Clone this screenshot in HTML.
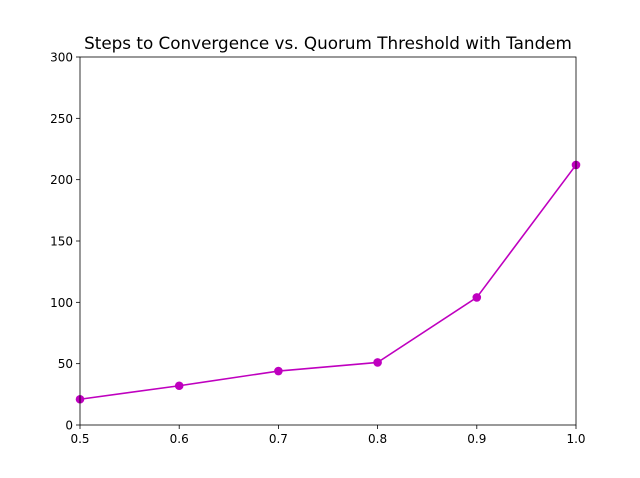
<!DOCTYPE html>
<html><head><meta charset="utf-8"><style>
body{margin:0;background:#fff;}
svg{display:block;font-family:"DejaVu Sans","Liberation Sans",sans-serif;}
</style></head><body>
<svg id="chart" width="640" height="478">
<rect width="640" height="478" fill="#fff"/>
<text x="328" y="49" text-anchor="middle" font-size="16.8">Steps to Convergence vs. Quorum Threshold with Tandem</text>
<g id="axes"></g>
</svg>
<script>
const xValues=[0.5,0.6,0.7,0.8,0.9,1.0];
const yValues=[21,32,44,51,104,212];
const xTicks=[0.5,0.6,0.7,0.8,0.9,1.0];
const yTicks=[0,50,100,150,200,250,300];
const L=80,R=576,T=57,B=425;
const xs=v=>L+(v-0.5)/0.5*(R-L);
const ys=v=>B-v/300*(B-T);
const g=document.getElementById('axes');
const NS='http://www.w3.org/2000/svg';
function mk(t,a){const e=document.createElementNS(NS,t);for(const k in a)e.setAttribute(k,a[k]);g.appendChild(e);return e;}
xTicks.forEach(v=>{
 const l=mk('line',{x1:xs(v),x2:xs(v),y1:B,y2:B+4,stroke:'#000','stroke-width':0.8});
 
 
 const t=mk('text',{x:xs(v),y:B+18,'text-anchor':'middle','font-size':12});
 t.textContent=v.toFixed(1);
 
 
});
yTicks.forEach(v=>{
 const l=mk('line',{x1:L-4,x2:L,y1:ys(v),y2:ys(v),stroke:'#000','stroke-width':0.8});
 
 
 const t=mk('text',{x:L-7,y:ys(v)+4.5,'text-anchor':'end','font-size':12});
 t.textContent=v;
 
 
});
const p=mk('polyline',{points:xValues.map((x,i)=>xs(x)+','+ys(yValues[i])).join(' '),fill:'none',stroke:'#bf00bf','stroke-width':1.6});


xValues.forEach((x,i)=>{
 const c=mk('circle',{cx:xs(x),cy:ys(yValues[i]),r:4.3,fill:'#bf00bf'});
 
 
});
const f=mk('rect',{x:L,y:T,width:R-L,height:B-T,fill:'none',stroke:'#000','stroke-width':0.8});


</script>
</body></html>
